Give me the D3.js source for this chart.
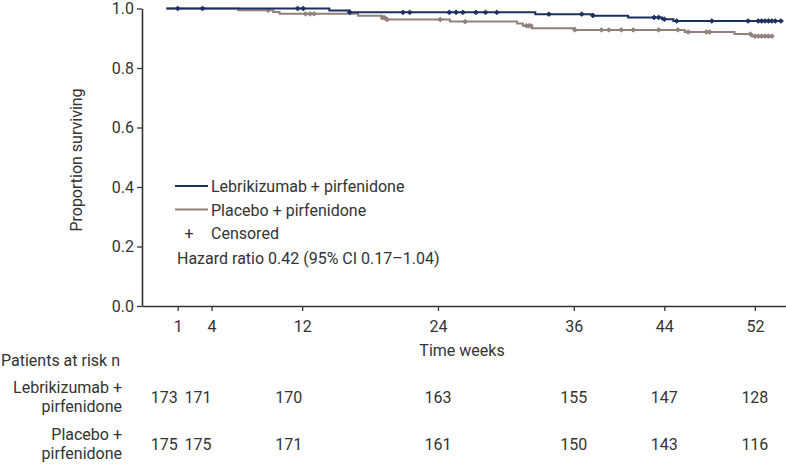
<!DOCTYPE html>
<html>
<head>
<meta charset="utf-8">
<script src="https://cdn.jsdelivr.net/npm/d3@7"></script>
<style>
  html, body { margin: 0; padding: 0; background: #fff; }
  svg { display: block; }
  text { font-family: Roboto, "Noto Sans", sans-serif; fill: #333; }
</style>
</head>
<body>
<div id="chart"></div>
<script>
// ---- data ----
const xTicks = [1, 4, 12, 24, 36, 44, 52];
const yTicks = [0, 0.2, 0.4, 0.6, 0.8, 1.0];

// Lebrikizumab + pirfenidone: step times (weeks) and survival
const lebTimes = [0, 14.4, 16.2, 32.6, 37.7, 40.8, 43.8, 44.8, 54.3];
const lebSurv  = [1.0, 0.993, 0.987, 0.981, 0.976, 0.970, 0.964, 0.958, 0.958];
const lebCensor = [1.0, 3.2, 11.6, 12.1, 16.2, 20.9, 21.5, 25.0, 25.6, 26.2, 27.35, 28.2, 29.2,
  33.8, 36.7, 37.7, 43.1, 43.5, 44.0, 45.1, 48.2, 51.4, 52.3, 52.6, 52.9, 53.2, 53.5, 53.8, 54.3];

// Placebo + pirfenidone
const plaTimes = [0, 6.35, 9.45, 10.0, 16.95, 19.1, 19.4, 25.05, 31.0, 31.5, 32.3, 36.1, 45.8, 50.2, 51.7, 53.6];
const plaSurv  = [1.0, 0.994, 0.988, 0.982, 0.976, 0.969, 0.963, 0.956, 0.950, 0.942, 0.934, 0.928, 0.921, 0.914, 0.907, 0.907];
const plaCensor = [9.0, 12.3, 12.7, 13.05, 19.1, 19.3, 19.5, 24.2, 26.4, 31.8, 32.0, 32.2, 36.1, 38.45, 39.1,
  40.2, 41.25, 43.5, 45.2, 46.1, 47.7, 48.0, 51.6, 52.0, 52.3, 52.6, 52.9, 53.2, 53.5];

const seriesNames = ["Lebrikizumab + pirfenidone", "Placebo + pirfenidone"];
const riskRowLabels = [["Lebrikizumab +", "pirfenidone"], ["Placebo +", "pirfenidone"]];
const riskTimes = [1, 4, 12, 24, 36, 44, 52];
const riskLeb = [173, 171, 170, 163, 155, 147, 128];
const riskPla = [175, 175, 171, 161, 150, 143, 116];
const hazardText = "Hazard ratio 0.42 (95% CI 0.17\u20131.04)";

// ---- chart ----
const W = 786, H = 464;
const blue = "#1c3062", grey = "#90817c", ink = "#333";
const svg = d3.select("#chart").append("svg").attr("width", W).attr("height", H);

const x = d3.scaleLinear().domain([-2.15, 54.75]).range([142, 786]);
const y = d3.scaleLinear().domain([0, 1]).range([306, 8.5]);

// axes
const xAxis = d3.axisBottom(x).tickValues(xTicks).tickSize(5).tickSizeOuter(0).tickPadding(10)
  .tickFormat(d3.format("d"));
const gx = svg.append("g").attr("transform", `translate(0,${y(0)})`).call(xAxis);
const yAxis = d3.axisLeft(y).tickValues(yTicks).tickSize(5).tickSizeOuter(0).tickPadding(3)
  .tickFormat(d3.format(".1f"));
const gy = svg.append("g").attr("transform", `translate(${x.range()[0]},0)`).call(yAxis);
[gx, gy].forEach(g => {
  g.select(".domain").attr("stroke", ink).attr("stroke-width", 1.6);
  g.selectAll(".tick line").attr("stroke", ink).attr("stroke-width", 1.3);
  g.selectAll(".tick text").attr("font-size", 16).attr("fill", ink)
    .style("font-family", "Roboto, sans-serif");
});

svg.append("text").attr("x", 462).attr("y", 356).attr("text-anchor", "middle")
  .attr("font-size", 16).text("Time weeks");
svg.append("text").attr("transform", "translate(82,160) rotate(-90)").attr("text-anchor", "middle")
  .attr("font-size", 16).text("Proportion surviving");

// curves
const line = d3.line().curve(d3.curveStepAfter).x(d => x(d[0])).y(d => y(d[1]));
function stepVal(times, surv, t) {
  let v = surv[0];
  for (let i = 0; i < times.length; i++) if (times[i] <= t) v = surv[i];
  return v;
}
const series = [
  { times: plaTimes, surv: plaSurv, cens: plaCensor, color: grey },
  { times: lebTimes, surv: lebSurv, cens: lebCensor, color: blue }
];
series.forEach(s => {
  const pts = s.times.map((t, i) => [t, s.surv[i]]);
  svg.append("path").datum(pts).attr("d", line).attr("fill", "none")
    .attr("stroke", s.color).attr("stroke-width", 2);
  svg.append("g").selectAll("path").data(s.cens).join("path")
    .attr("transform", t => `translate(${x(t)},${y(stepVal(s.times, s.surv, t))})`)
    .attr("d", "M-2.5,0L0,-2.2L2.5,0L0,2.2Z").attr("fill", s.color)
    .attr("stroke", s.color).attr("stroke-width", 1);
});

// legend
const legend = [{ name: seriesNames[0], color: blue, y: 186 }, { name: seriesNames[1], color: grey, y: 209.5 }];
legend.forEach(l => {
  svg.append("line").attr("x1", 175).attr("x2", 208).attr("y1", l.y).attr("y2", l.y)
    .attr("stroke", l.color).attr("stroke-width", 2);
  svg.append("text").attr("x", 211).attr("y", l.y + 6).attr("font-size", 16).text(l.name);
});
svg.append("text").attr("x", 189).attr("y", 238.5).attr("text-anchor", "middle").attr("font-size", 16).text("+");
svg.append("text").attr("x", 211).attr("y", 239).attr("font-size", 16).text("Censored");
svg.append("text").attr("x", 177).attr("y", 264).attr("font-size", 16).text(hazardText);

// risk table
svg.append("text").attr("x", 1).attr("y", 366).attr("font-size", 16).text("Patients at risk n");
const rows = [{ labels: riskRowLabels[0], vals: riskLeb, base: 393 }, { labels: riskRowLabels[1], vals: riskPla, base: 440 }];
rows.forEach(r => {
  r.labels.forEach((lab, i) => {
    svg.append("text").attr("x", 122).attr("y", r.base + i * 19).attr("text-anchor", "end")
      .attr("font-size", 16).text(lab);
  });
  svg.append("g").selectAll("text").data(r.vals).join("text")
    .attr("x", (d, i) => x(riskTimes[i]))
    .attr("y", r.base + 10)
    .attr("text-anchor", (d, i) => i < 3 ? "end" : "middle")
    .attr("font-size", 16).text(d => d);
});
</script>
</body>
</html>
